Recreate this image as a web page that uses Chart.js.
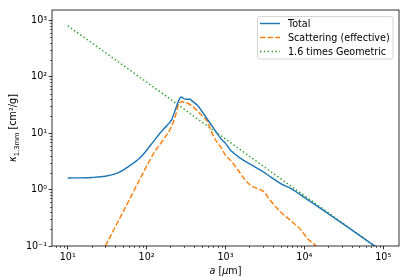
<!DOCTYPE html>
<html>
<head>
<meta charset="utf-8">
<script src="https://cdn.jsdelivr.net/npm/chart.js@4/dist/chart.umd.min.js"></script>
<style>
  html, body { margin: 0; padding: 0; background: #fff; }
  #wrap { width: 415px; height: 277px; }
</style>
</head>
<body>
<div id="wrap"><canvas id="myChart" width="415" height="277"></canvas></div>
<script>
// grain size a [um] and opacity kappa [cm^2/g]
var aTotal = [10, 20, 30, 44, 60, 83, 112, 150, 182, 210, 233, 257, 275, 295, 324, 355, 380, 437, 525, 600, 713, 867, 1000,
              1161, 1556, 2084, 2793, 3741, 5012, 6714, 8510, 12000, 16200, 30000, 100000];
var kTotal = [1.61, 1.64, 1.72, 2.0, 2.6, 3.7, 6.1, 10.3, 13.8, 18, 27, 39, 44, 41, 40, 40, 37, 31.5, 22.4, 17, 12.1, 8.1, 6.6,
              5.0, 3.57, 2.79, 2.21, 1.68, 1.28, 1.05, 0.85, 0.61, 0.46, 0.255, 0.078];

var aScat = [30, 60, 100, 123, 166, 200, 234, 257, 282, 316, 363, 479, 589, 713, 867, 1000,
             1161, 1400, 1720, 2084, 2540, 3090, 3560, 5000, 6760, 9120, 11000, 14000, 20000];
var kScat = [0.1, 0.65, 2.6, 4.4, 8.0, 12, 21, 34, 36, 35, 31.5, 22, 16, 8.5, 5.7, 4.1,
             3.3, 2.36, 1.57, 1.19, 1.04, 0.91, 0.69, 0.40, 0.28, 0.19, 0.135, 0.1, 0.05];

var aGeo = [10, 100, 1000, 10000, 100000];
var kGeo = [805, 80.5, 7.9, 0.78, 0.078];

var xTicks = [10, 100, 1000, 10000, 100000];
var yTicks = [0.1, 1, 10, 100, 1000];

var FONT = '"DejaVu Sans", sans-serif';
var FS = 9.6;

function pts(xs, ys) {
    var out = [];
    for (var i = 0; i < xs.length; i++) out.push({x: xs[i], y: ys[i]});
    return out;
}

function powLabel(v) {
    var sup = {'-': '\u207B', '0': '\u2070', '1': '\u00B9', '2': '\u00B2', '3': '\u00B3', '4': '\u2074', '5': '\u2075'};
    var e = String(Math.round(Math.log10(v)));
    var s = '';
    for (var i = 0; i < e.length; i++) s += sup[e[i]];
    return '10' + s;
}

// frame, minor ticks, axis titles and legend, matplotlib-like
var extras = {
    id: 'extras',
    afterDraw: function(chart) {
        var ctx = chart.ctx, ca = chart.chartArea;
        var xs = chart.scales.x, ys = chart.scales.y;
        ctx.save();
        ctx.strokeStyle = '#000';
        ctx.lineWidth = 0.6;
        for (var d = 0; d <= 5; d++) {
            for (var m = 2; m <= 9; m++) {
                var v = m * Math.pow(10, d);
                if (v > xs.min && v < xs.max) {
                    var px = Math.round(xs.getPixelForValue(v)) + 0.5;
                    ctx.beginPath(); ctx.moveTo(px, ca.bottom); ctx.lineTo(px, ca.bottom + 2); ctx.stroke();
                }
            }
        }
        for (var d2 = -1; d2 <= 3; d2++) {
            for (var m2 = 2; m2 <= 9; m2++) {
                var w = m2 * Math.pow(10, d2);
                if (w > ys.min && w < ys.max) {
                    var py = Math.round(ys.getPixelForValue(w)) + 0.5;
                    ctx.beginPath(); ctx.moveTo(ca.left, py); ctx.lineTo(ca.left - 2, py); ctx.stroke();
                }
            }
        }
        // frame
        ctx.lineWidth = 0.8;
        ctx.strokeRect(ca.left, ca.top, ca.right - ca.left, ca.bottom - ca.top);

        ctx.fillStyle = '#000';
        ctx.textBaseline = 'alphabetic';
        // x title: a [um]
        var p1 = 'italic ' + FS + 'px ' + FONT, p2 = FS + 'px ' + FONT;
        var parts = [['a', p1], [' [', p2], ['\u03BC', p1], ['m]', p2]];
        var tw = 0;
        parts.forEach(function(p) { ctx.font = p[1]; tw += ctx.measureText(p[0]).width; });
        var x0 = (ca.left + ca.right) / 2 - tw / 2;
        parts.forEach(function(p) { ctx.font = p[1]; ctx.fillText(p[0], x0, 274); x0 += ctx.measureText(p[0]).width; });

        // y title: kappa_1.3mm [cm^2/g]
        var sub = (FS * 0.7) + 'px ' + FONT;
        var yparts = [['\u03BA', p1, 0], ['1.3mm', sub, 2.5], [' [cm\u00B2/g]', p2, 0]];
        var th = 0;
        yparts.forEach(function(p) { ctx.font = p[1]; th += ctx.measureText(p[0]).width; });
        ctx.translate(16, (ca.top + ca.bottom) / 2);
        ctx.rotate(-Math.PI / 2);
        var y0 = -th / 2;
        yparts.forEach(function(p) { ctx.font = p[1]; ctx.fillText(p[0], y0, p[2]); y0 += ctx.measureText(p[0]).width; });
        ctx.restore();

        // legend
        ctx.save();
        var lx = 257.5, ly = 16.5, lw = 135.5, lh = 42.5;
        ctx.beginPath();
        ctx.roundRect(lx, ly, lw, lh, 2.5);
        ctx.fillStyle = 'rgba(255,255,255,0.8)';
        ctx.fill();
        ctx.strokeStyle = '#cccccc';
        ctx.lineWidth = 0.8;
        ctx.stroke();
        ctx.font = FS + 'px ' + FONT;
        ctx.textBaseline = 'middle';
        chart.data.datasets.forEach(function(ds, i) {
            var yy = 23.5 + i * 14;
            ctx.strokeStyle = ds.borderColor;
            ctx.lineWidth = ds.borderWidth;
            ctx.setLineDash(ds.borderDash || []);
            ctx.beginPath(); ctx.moveTo(260, yy); ctx.lineTo(280, yy); ctx.stroke();
            ctx.setLineDash([]);
            ctx.fillStyle = '#000';
            ctx.fillText(ds.label, 288, yy + 0.5);
        });
        ctx.restore();
    }
};

var myChart = new Chart(document.getElementById('myChart').getContext('2d'), {
    type: 'line',
    data: {
        datasets: [{
            label: 'Total',
            data: pts(aTotal, kTotal),
            borderColor: '#1f77b4',
            borderWidth: 1.45,
            clip: 0
        }, {
            label: 'Scattering (effective)',
            data: pts(aScat, kScat),
            borderColor: '#ff7f0e',
            borderWidth: 1.45,
            borderDash: [5.4, 2.3],
            clip: 0
        }, {
            label: '1.6 times Geometric',
            data: pts(aGeo, kGeo),
            borderColor: '#2ca02c',
            borderWidth: 1.45,
            borderDash: [1.45, 2.4],
            clip: 0
        }]
    },
    options: {
        responsive: false,
        animation: false,
        devicePixelRatio: 1,
        layout: { padding: { left: 0, right: 16, top: 10, bottom: 0 } },
        elements: { point: { radius: 0 }, line: { cubicInterpolationMode: 'monotone' } },
        plugins: { legend: { display: false }, tooltip: { enabled: false } },
        scales: {
            x: {
                type: 'logarithmic',
                min: Math.pow(10, 0.8),
                max: Math.pow(10, 5.2),
                afterBuildTicks: function(s) { s.ticks = xTicks.map(function(v) { return {value: v}; }); },
                afterFit: function(s) { s.height = 31; },
                grid: { drawOnChartArea: false, tickLength: 3.4, tickColor: '#000', tickWidth: 0.8 },
                border: { display: false },
                ticks: {
                    autoSkip: false, maxRotation: 0, padding: 2, color: '#000',
                    font: { family: FONT, size: FS },
                    callback: function(v) { return powLabel(v); }
                }
            },
            y: {
                type: 'logarithmic',
                min: 0.1,
                max: Math.pow(10, 3.185),
                afterBuildTicks: function(s) { s.ticks = yTicks.map(function(v) { return {value: v}; }); },
                afterFit: function(s) { s.width = 52; },
                grid: { drawOnChartArea: false, tickLength: 3.4, tickColor: '#000', tickWidth: 0.8 },
                border: { display: false },
                ticks: {
                    autoSkip: false, padding: 1.5, color: '#000',
                    font: { family: FONT, size: FS },
                    callback: function(v) { return powLabel(v); }
                }
            }
        }
    },
    plugins: [extras]
});
</script>
</body>
</html>
